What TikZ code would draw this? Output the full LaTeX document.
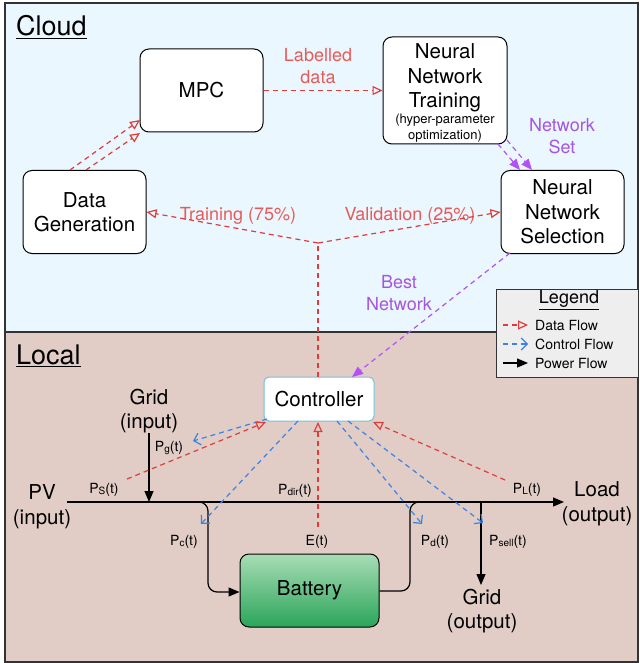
\documentclass[tikz,border=0pt]{standalone}
\usepackage{fontspec}
\setmainfont{TeX Gyre Heros}
\usetikzlibrary{arrows.meta}
\definecolor{cloudbg}{HTML}{EAF7FE}
\definecolor{localbg}{HTML}{E1CDC6}
\definecolor{legbg}{HTML}{EEEEEE}
\definecolor{redl}{HTML}{E03C3C}
\definecolor{redt}{HTML}{E85A5A}
\definecolor{bluel}{HTML}{3C82E6}
\definecolor{purl}{HTML}{B450F5}
\definecolor{purt}{HTML}{A655E0}
\definecolor{ctrlb}{HTML}{78BEDC}
\definecolor{battop}{HTML}{A8DDB5}
\definecolor{batbot}{HTML}{2AA55A}
\definecolor{framec}{HTML}{333333}
\newcommand\fmain{\fontsize{20.5}{24.5}\selectfont}
\newcommand\flab{\fontsize{18}{21.5}\selectfont}
\newcommand\fsmall{\fontsize{13}{15.5}\selectfont}
\newcommand\fpow{\fontsize{14}{16}\selectfont}
\newcommand\psub[1]{P\raisebox{-1pt}{\fontsize{10}{10}\selectfont #1}(t)}
\tikzset{
  box/.style={draw=black, line width=1pt, fill=white, rounded corners=9pt, inner sep=0pt, align=center, font=\fmain},
  txt/.style={inner sep=0pt, align=center},
  dataflow/.style={draw=redl, line width=1.2pt, dash pattern=on 5pt off 4pt, -{Triangle[open, length=10pt, width=9pt]}},
  dataline/.style={draw=redl, line width=1.2pt, dash pattern=on 5pt off 4pt},
  ctrlflow/.style={draw=bluel, line width=1.2pt, dash pattern=on 5pt off 4pt, -{Straight Barb[length=6pt, width=12pt]}},
  purflow/.style={draw=purl, line width=1.2pt, dash pattern=on 5pt off 4pt, -{Triangle[length=11pt, width=9pt]}, purl},
  powflow/.style={draw=black, line width=1.2pt, -{Triangle[length=11pt, width=9pt]}},
  powline/.style={draw=black, line width=1.2pt},
}
\begin{document}
\begin{tikzpicture}[x=1pt, y=-1pt]
\useasboundingbox (0,0) rectangle (639,663);
% regions
\fill[cloudbg] (5,3) rectangle (638,332);
\fill[localbg] (5,332) rectangle (638,662);
\draw[framec, line width=1.2pt] (5,3) rectangle (638,332);
\draw[framec, line width=1.2pt] (5,332) rectangle (638,662);
\node[txt, anchor=base west, font=\fontsize{27}{30}\selectfont] (cloudt) at (16,36) {\underline{Cloud}};
\node[txt, anchor=base west, font=\fontsize{27}{30}\selectfont] (localt) at (16,364) {\underline{Local}};

% cloud boxes
\node[box, minimum width=123pt, minimum height=83pt] (mpc) at (201.5,90.5) {MPC};
\node[box, minimum width=123pt, minimum height=83pt] (dg) at (84.5,212) {Data\\Generation};
\node[box, minimum width=124pt, minimum height=107pt] (nnt) at (445,90.5) {};
\node[txt, font=\fmain] (nntt) at (445,78) {Neural\\Network\\Training};
\node[txt, font=\fsmall] (nnts) at (445,128) {(hyper-parameter\\optimization)};
\node[box, minimum width=123pt, minimum height=83pt] (nns) at (562.5,212) {Neural\\Network\\Selection};

% cloud labels
\node[txt, font=\flab, text=redt] (ld) at (318,66) {Labelled\\data};
\node[txt, font=\flab, text=redt] (tr) at (238,216) {Training (75\%)};
\node[txt, font=\flab, text=redt] (va) at (410,216) {Validation (25\%)};
\node[txt, font=\flab, text=purt] (ns) at (562,136) {Network\\Set};
\node[txt, font=\flab, text=purt] (bn) at (399,293) {Best\\Network};

% cloud connectors
\coordinate (dg1) at (70,170);
\coordinate (dg2) at (86,170);
\coordinate (mp1) at (140,120);
\coordinate (mp2) at (140,133);
\draw[dataflow] (dg1) -- (mp1);
\draw[dataflow] (dg2) -- (mp2);
\draw[dataflow] (mpc.east) -- (nnt.west);
\coordinate (J) at (318,243);
\draw[dataflow] (J) -- (dg.east);
\draw[dataflow] (J) -- (nns.west);
\coordinate (nt1) at (498,144);
\coordinate (nt2) at (507,140);
\coordinate (ns1) at (520,170);
\coordinate (ns2) at (532,170);
\draw[purflow] (nt1) -- (ns1);
\draw[purflow] (nt2) -- (ns2);

% legend
\node[draw=framec, line width=1pt, fill=legbg, minimum width=142pt, minimum height=88pt, inner sep=0pt] (leg) at (567,333) {};
\node[txt, font=\fontsize{18}{20}\selectfont] (legt) at (569,300) {\underline{Legend}};
\node[txt, anchor=west, font=\fpow] (l1) at (535,325) {Data Flow};
\node[txt, anchor=west, font=\fpow] (l2) at (535,344) {Control Flow};
\node[txt, anchor=west, font=\fpow] (l3) at (535,363) {Power Flow};
\coordinate (a1) at (503,325); \coordinate (b1) at (528,325);
\coordinate (a2) at (503,344); \coordinate (b2) at (528,344);
\coordinate (a3) at (503,363); \coordinate (b3) at (528,363);
\draw[dataflow] (a1) -- (b1);
\draw[ctrlflow] (a2) -- (b2);
\draw[powflow] (a3) -- (b3);

% local nodes
\node[draw=ctrlb, line width=1pt, fill=white, rounded corners=5pt, minimum width=110pt, minimum height=44pt, inner sep=0pt, font=\fmain] (ctrl) at (319,399) {Controller};
\node[draw=black, line width=1pt, rounded corners=9pt, top color=battop, bottom color=batbot, minimum width=139pt, minimum height=73pt, inner sep=0pt, font=\fmain] (bat) at (309.5,590.5) {Battery};
\node[txt, font=\fmain] (pv) at (42,507) {PV\\(input)};
\node[txt, font=\fmain] (gin) at (149,411) {Grid\\(input)};
\node[txt, font=\fmain] (load) at (597,504) {Load\\(output)};
\node[txt, font=\fmain] (gout) at (482,611) {Grid\\(output)};

% Best network arrow
\coordinate (bn1) at (510,253);
\coordinate (bn2) at (352,377);
\draw[purflow] (bn1) -- (bn2);

% power lines
\coordinate (pvs) at (67,502);
\coordinate (ldt) at (564,502);
\coordinate (gi1) at (149,433);
\coordinate (gi2) at (149,502);
\coordinate (ch0) at (175,502);
\coordinate (chc) at (208,592);
\coordinate (dc1) at (410,591);
\coordinate (dc2) at (434,502);
\coordinate (go1) at (481,502);
\coordinate (go2) at (481,585);
\draw[powflow] (pvs) -- (ldt);
\draw[powflow] (gi1) -- (gi2);
\draw[powflow, rounded corners=9pt] (ch0) -| (chc) -- (bat.west |- chc);
\draw[powline, rounded corners=9pt] (bat.east |- dc1) -- (dc1) |- (dc2);
\draw[powflow] (go1) -- (go2);

% power labels
\node[txt, font=\fpow] (lps) at (104,490) {\psub{S}};
\node[txt, font=\fpow] (lpg) at (169,448) {\psub{g}};
\node[txt, font=\fpow] (lpdir) at (295,491) {\psub{dir}};
\node[txt, font=\fpow] (lpc) at (184,542) {\psub{c}};
\node[txt, font=\fpow] (let) at (317,542) {E(t)};
\node[txt, font=\fpow] (lpd) at (435,542) {\psub{d}};
\node[txt, font=\fpow] (lpsell) at (508,542) {\psub{sell}};
\node[txt, font=\fpow] (lpl) at (527,490) {\psub{L}};

% controller connectors
\coordinate (c1) at (267,419); \coordinate (t1) at (193,441);
\coordinate (s2) at (127,479); \coordinate (c2) at (266,422);
\coordinate (c3) at (298,421); \coordinate (t3) at (201,524);
\coordinate (s4) at (318,527); \coordinate (c4) at (318,422);
\coordinate (c5) at (337,421); \coordinate (t5) at (422,524);
\coordinate (c6) at (348,421); \coordinate (t6) at (483,523);
\coordinate (s7) at (505,480); \coordinate (c7) at (373,422);
\coordinate (c8) at (318,377);
\draw[ctrlflow] (c1) -- (t1);
\draw[dataflow] (s2) -- (c2);
\draw[ctrlflow] (c3) -- (t3);
\draw[dataflow] (s4) -- (c4);
\draw[ctrlflow] (c5) -- (t5);
\draw[ctrlflow] (c6) -- (t6);
\draw[dataflow] (s7) -- (c7);
\draw[dataline] (c8) -- (J);
\end{tikzpicture}
\end{document}
